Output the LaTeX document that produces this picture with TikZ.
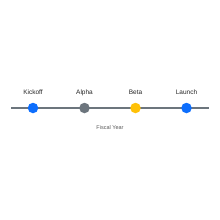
\documentclass[tikz,border=0pt]{standalone}
\usepackage{fontspec}
\setmainfont{Liberation Sans}
\usetikzlibrary{positioning}
\definecolor{msblue}{HTML}{0D6EFD}
\definecolor{msgray}{HTML}{6C757D}
\definecolor{msyellow}{HTML}{FFC107}
\definecolor{axisgray}{HTML}{6C757D}
\tikzset{
  milestone/.style={circle, fill=#1, inner sep=0pt, minimum size=10.5pt},
  mslabel/.style={font=\fontsize{6.5}{7}\selectfont, text=black!85, anchor=base},
}

\begin{document}
\begin{tikzpicture}[x=1pt, y=-1pt]
        \useasboundingbox (0,0) rectangle (220,220);
        \coordinate (start) at (11,108);
        \coordinate (stop) at (209,108);
        \draw[axisgray, line width=1.6pt] (start) -- (stop);

        \node[milestone=msblue] (kickoff) at (33,108) {};
        \node[milestone=msgray] (alpha) at (84.5,108) {};
        \node[milestone=msyellow] (beta) at (135.5,108) {};
        \node[milestone=msblue] (launch) at (186.5,108) {};

        \node[mslabel] (kickoffl) at (33,94.5) {Kickoff};
        \node[mslabel] (alphal) at (84.5,94.5) {Alpha};
        \node[mslabel] (betal) at (135.5,94.5) {Beta};
        \node[mslabel] (launchl) at (186.5,94.5) {Launch};

        \node[font=\fontsize{5.5}{6}\selectfont, text=black!65] (fy) at (110,128) {Fiscal Year};
      \end{tikzpicture}
\end{document}
